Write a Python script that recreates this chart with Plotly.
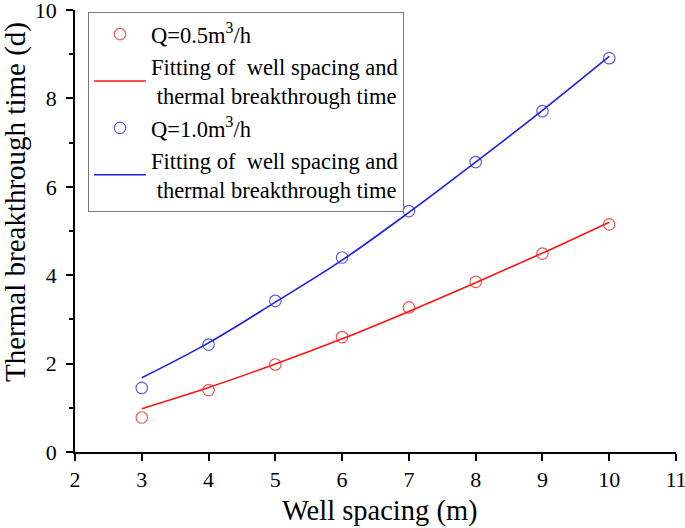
import plotly.graph_objects as go

spacing = [3, 4, 5, 6, 7, 8, 9, 10]
t_q05 = [0.78, 1.40, 1.98, 2.60, 3.27, 3.85, 4.49, 5.15]
t_q10 = [1.45, 2.43, 3.42, 4.40, 5.45, 6.56, 7.71, 8.91]
fit_q05 = [0.98, 1.46, 1.99, 2.56, 3.18, 3.83, 4.50, 5.20]
fit_q10 = [1.68, 2.47, 3.39, 4.34, 5.42, 6.56, 7.73, 8.95]

fit_label = "Fitting of  well spacing and<br> thermal breakthrough time"
FONT = "Liberation Serif, Times New Roman, serif"

L, R, T, B = 75, 9, 10, 76
W, H = 685, 528
pw, ph = W - L - R, H - T - B

fig = go.Figure()
fig.add_trace(go.Scatter(x=spacing, y=t_q05, mode="markers", name="Q=0.5m<sup>3</sup>/h",
                         marker=dict(symbol="circle-open", size=11.5, color="rgb(232,90,90)",
                                     line=dict(width=1.2))))
fig.add_trace(go.Scatter(x=spacing, y=fit_q05, mode="lines", name=fit_label,
                         line=dict(color="rgb(255,20,20)", width=1.6, shape="spline")))
fig.add_trace(go.Scatter(x=spacing, y=t_q10, mode="markers", name="Q=1.0m<sup>3</sup>/h",
                         marker=dict(symbol="circle-open", size=11.5, color="rgb(95,95,230)",
                                     line=dict(width=1.2))))
fig.add_trace(go.Scatter(x=spacing, y=fit_q10, mode="lines", name=fit_label,
                         line=dict(color="rgb(30,30,235)", width=1.6, shape="spline")))

fig.update_layout(
    width=W, height=H,
    margin=dict(l=L, r=R, t=T, b=B, autoexpand=False),
    paper_bgcolor="white", plot_bgcolor="white",
    font=dict(family=FONT, color="black"),
    showlegend=True,
    legend=dict(x=(88 - L) / pw, y=(ph + T - 12) / ph, xanchor="left", yanchor="top",
                bordercolor="rgb(120,120,120)", borderwidth=1, bgcolor="white",
                font=dict(family=FONT, size=22.5), tracegroupgap=0, itemwidth=52),
    annotations=[
        dict(text="Well spacing (m)", xref="paper", yref="paper",
             x=(380 - L) / pw, y=-(511 - (T + ph)) / ph, xanchor="center", yanchor="middle",
             showarrow=False, font=dict(family=FONT, size=28.5)),
        dict(text="Thermal breakthrough time (d)", xref="paper", yref="paper",
             x=(15 - L) / pw, y=((T + ph) - 202) / ph, xanchor="center", yanchor="middle",
             textangle=-90, showarrow=False, font=dict(family=FONT, size=29)),
    ],
)
fig.update_xaxes(range=[2, 11], tickmode="linear", tick0=2, dtick=1, automargin=False,
                 showline=True, linecolor="black", linewidth=1.5, ticklabeloverflow="allow",
                 ticks="outside", ticklen=7, tickwidth=1.5, tickcolor="black",
                 showgrid=False, zeroline=False,
                 tickfont=dict(family=FONT, size=22))
fig.update_yaxes(range=[0, 10], tickmode="linear", tick0=0, dtick=2, automargin=False,
                 showline=True, linecolor="black", linewidth=1.5, ticklabeloverflow="allow",
                 ticks="outside", ticklen=7, tickwidth=1.5, tickcolor="black", ticklabelstandoff=5,
                 minor=dict(ticks="outside", ticklen=4, tickwidth=1.5, tickcolor="black", dtick=1),
                 showgrid=False, zeroline=False,
                 tickfont=dict(family=FONT, size=22))

fig.write_html("out.html", config={"displayModeBar": False},
               post_script="document.body.style.margin='0';document.body.style.overflow='hidden';")
